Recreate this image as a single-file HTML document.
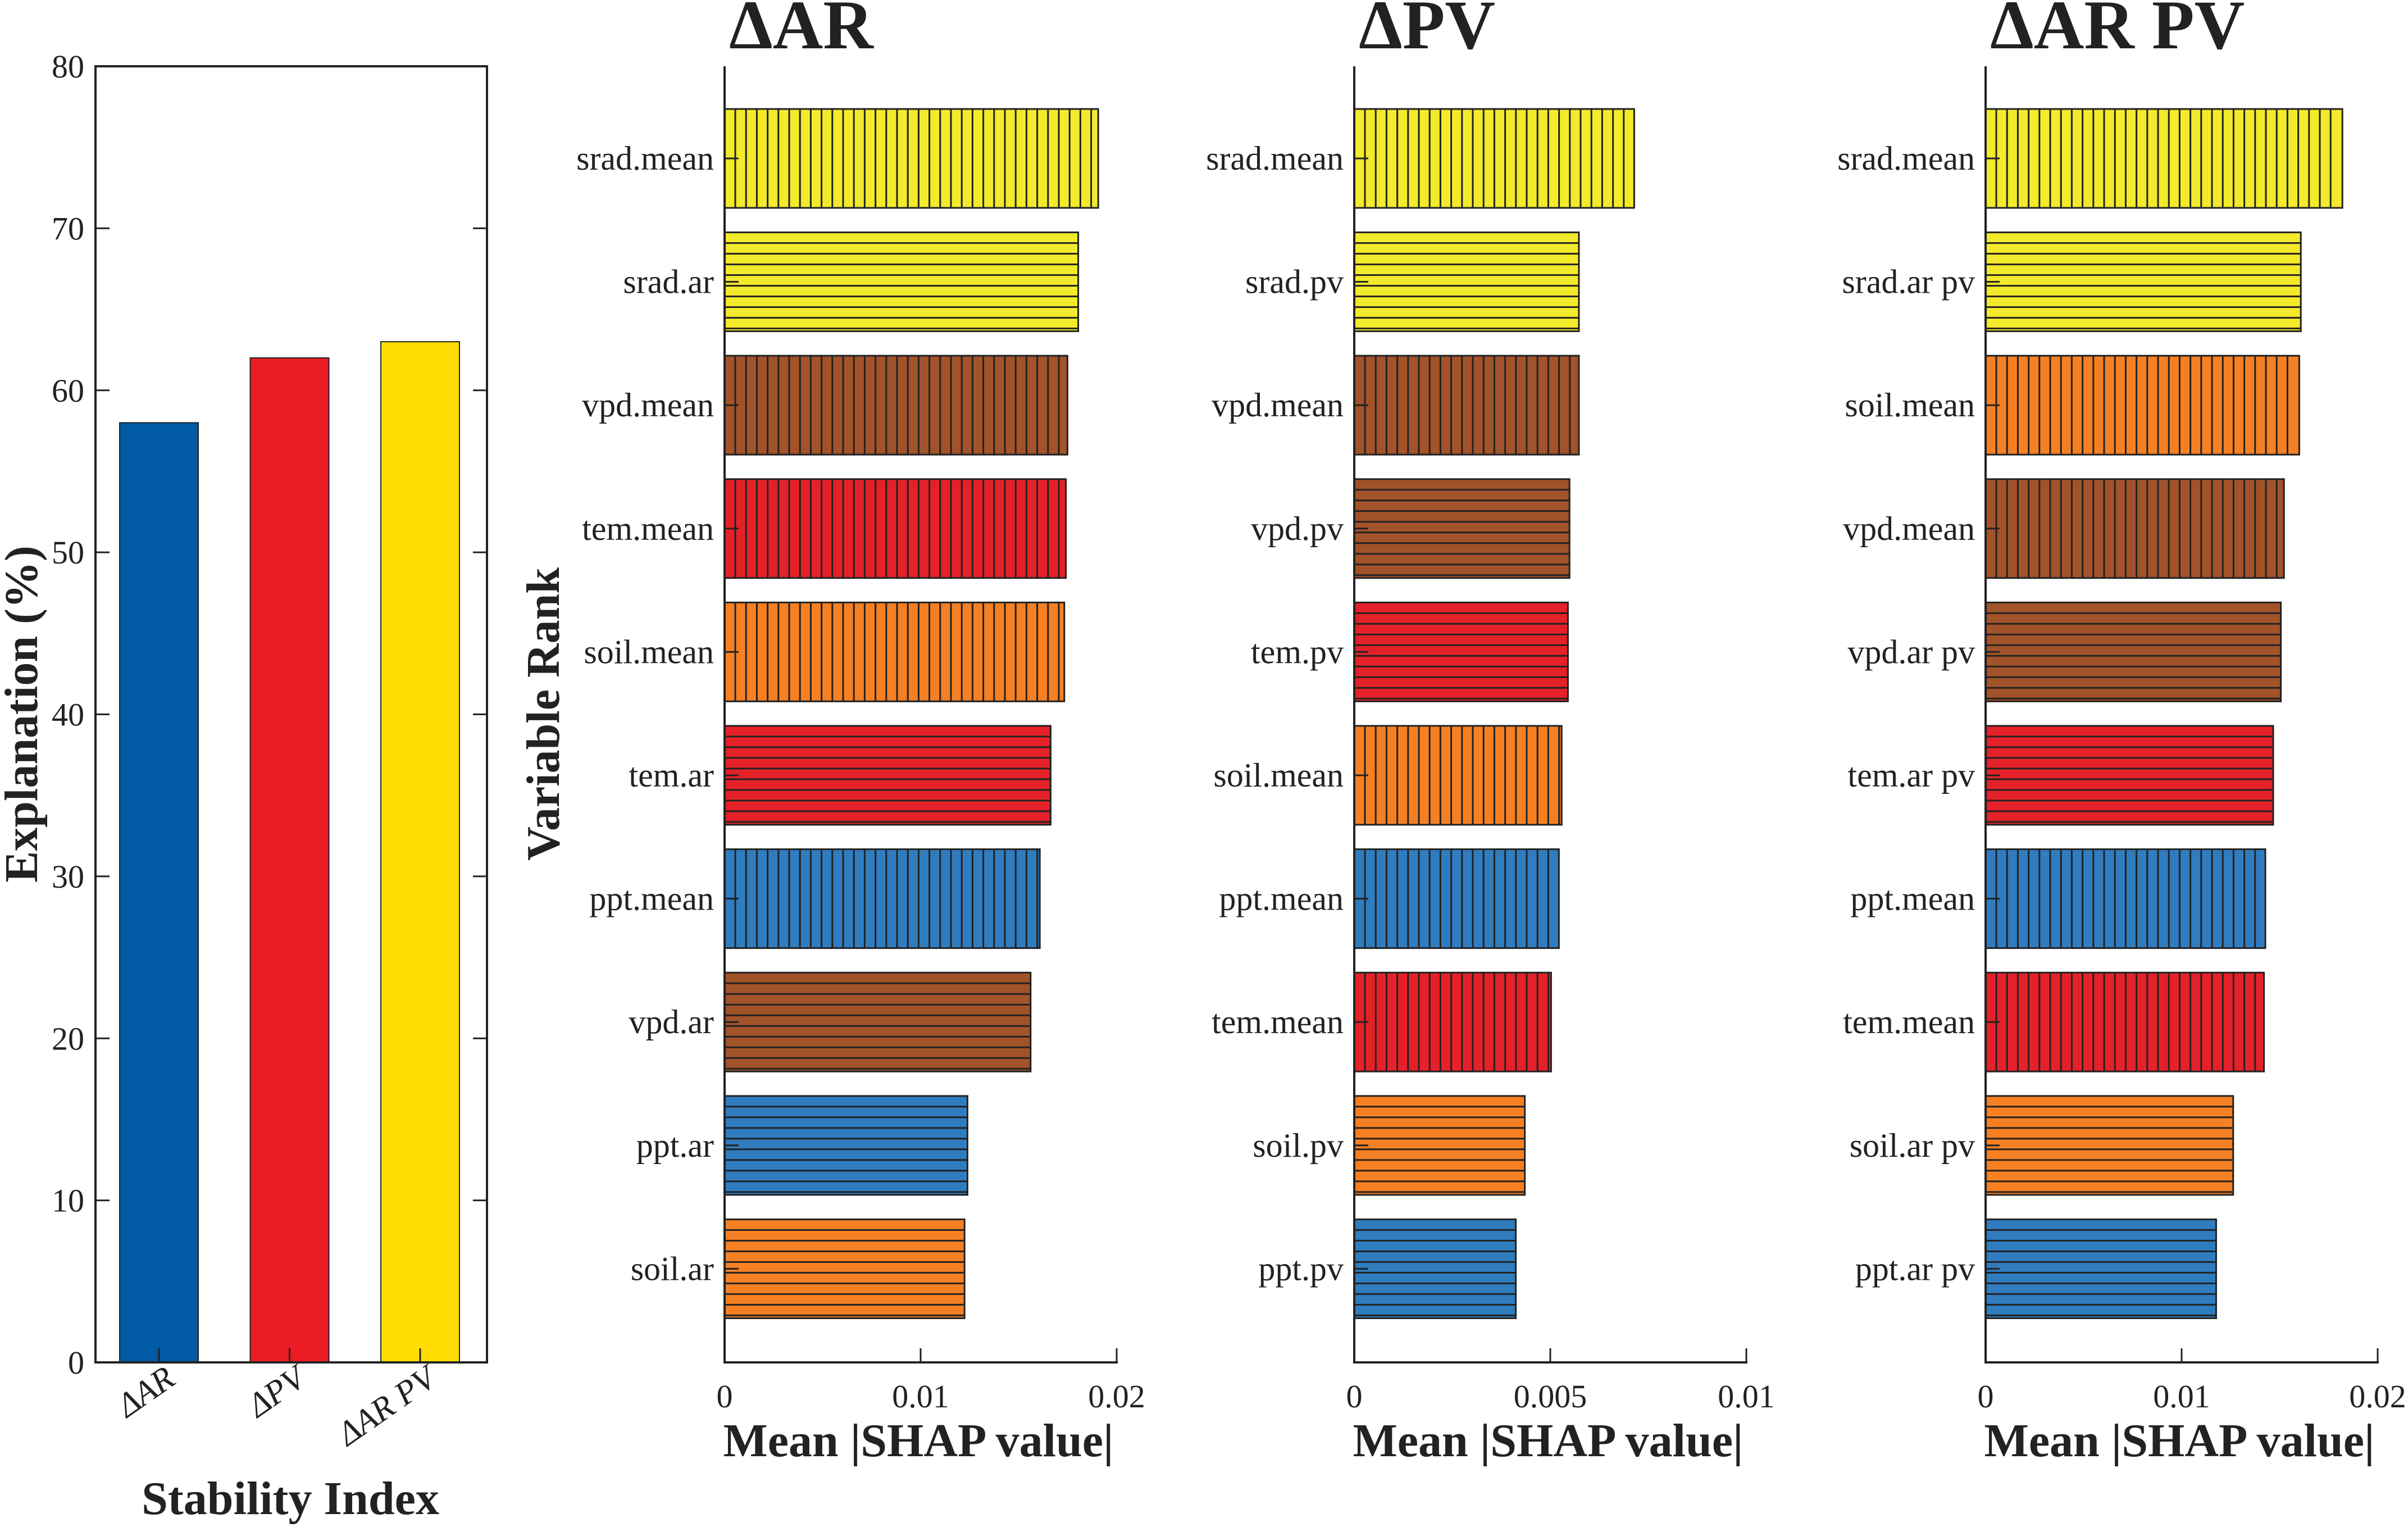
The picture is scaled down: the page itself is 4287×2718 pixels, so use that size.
<!DOCTYPE html>
<html><head><meta charset="utf-8"><style>html,body{margin:0;padding:0;background:#fff}svg{display:block}text{font-family:"Liberation Serif","DejaVu Serif",serif;fill:#222}</style></head>
<body>
<svg id="chart" width="4287" height="2718" viewBox="0 0 4287 2718" xmlns="http://www.w3.org/2000/svg" font-family="Liberation Serif, serif"></svg>
<script>
const stabCats = ["\u0394AR", "\u0394PV", "\u0394AR PV"];
const stabVals = [58, 62, 63];
const stabColors = ["#005ba4", "#ec1c24", "#ffdd00"];
const stabTicks = [0, 10, 20, 30, 40, 50, 60, 70, 80];

const arNames = ["srad.mean","srad.ar","vpd.mean","tem.mean","soil.mean","tem.ar","ppt.mean","vpd.ar","ppt.ar","soil.ar"];
const arVals = [0.01906,0.01804,0.01749,0.01741,0.01733,0.01663,0.01608,0.01561,0.01239,0.01224];
const pvNames = ["srad.mean","srad.pv","vpd.mean","vpd.pv","tem.pv","soil.mean","ppt.mean","tem.mean","soil.pv","ppt.pv"];
const pvVals = [0.00714,0.00573,0.00573,0.00549,0.00545,0.00529,0.00522,0.00502,0.00435,0.00412];
const arpvNames = ["srad.mean","srad.ar pv","soil.mean","vpd.mean","vpd.ar pv","tem.ar pv","ppt.mean","tem.mean","soil.ar pv","ppt.ar pv"];
const arpvVals = [0.0182,0.01608,0.016,0.01522,0.01506,0.01467,0.01427,0.0142,0.01263,0.01176];
const ticks02 = [0, 0.01, 0.02];
const ticks01 = [0, 0.005, 0.01];

const NS = "http://www.w3.org/2000/svg";
const svg = document.getElementById("chart");
const FF = '"Liberation Serif", serif';
function mk(tag, attrs, parent) {
  const e = document.createElementNS(NS, tag);
  for (const k in attrs) e.setAttribute(k, attrs[k]);
  if (tag === "text") e.style.fontFamily = FF;
  (parent || svg).appendChild(e);
  return e;
}
const varColor = {srad:"#f3ea2b", vpd:"#a2532a", tem:"#e42128", soil:"#f58023", ppt:"#2f7cbf"};

// ---- left chart
const L = {x0:170, x1:867, y0:118, y1:2425, max:80};
const ly = v => L.y1 - (v / L.max) * (L.y1 - L.y0);
stabVals.forEach((v, i) => {
  const cx = 283 + i * 232.5;
  const r = mk("rect", {x: cx - 70, y: ly(v), width: 140, height: L.y1 - ly(v), fill: stabColors[i], stroke: "#222", "stroke-width": 2});
  
  
  mk("line", {x1: cx, x2: cx, y1: L.y1, y2: L.y1 - 25, stroke: "#222", "stroke-width": 3});
  const lb = mk("text", {x: cx + 32, y: 2462, "text-anchor": "end", "font-size": 60, "font-style": "italic", transform: `rotate(-35 ${cx + 32} 2462)`});
  lb.textContent = stabCats[i];
  
  
});
const box = mk("rect", {x: L.x0, y: L.y0, width: L.x1 - L.x0, height: L.y1 - L.y0, fill: "none", stroke: "#222", "stroke-width": 4});


stabTicks.forEach(v => {
  const y = ly(v);
  mk("line", {x1: L.x0, x2: L.x0 + 25, y1: y, y2: y, stroke: "#222", "stroke-width": 3});
  mk("line", {x1: L.x1, x2: L.x1 - 25, y1: y, y2: y, stroke: "#222", "stroke-width": 3});
  const t = mk("text", {x: 150, y: y + 20, "text-anchor": "end", "font-size": 58});
  t.textContent = v;
  
  
});
let t1 = mk("text", {x: 517, y: 2695, "text-anchor": "middle", "font-size": 84, "font-weight": "bold"});
t1.textContent = "Stability Index";


let t2 = mk("text", {x: 66, y: 1271, "text-anchor": "middle", "font-size": 84, "font-weight": "bold", transform: "rotate(-90 66 1271)"});
t2.textContent = "Explanation (%)";


let t3 = mk("text", {x: 995, y: 1271, "text-anchor": "middle", "font-size": 84, "font-weight": "bold", transform: "rotate(-90 995 1271)"});
t3.textContent = "Variable Rank";



// ---- SHAP panels
function panel(x0, names, vals, max, ticks, title, key) {
  const W = 698, y0 = 118, y1 = 2425;
  const sx = v => x0 + v / max * W;
  const cy = i => 282 + i * 219.6;
  const g = mk("g", {});
  
  
  names.forEach((n, i) => {
    const c = cy(i), h = 176, top = c - h / 2, xe = sx(vals[i]);
    const col = varColor[n.split(".")[0]];
    const r = mk("rect", {x: x0, y: top, width: xe - x0, height: h, fill: col}, g);
    
    
    if (n.indexOf("mean") >= 0) {
      for (let x = x0 + 19; x < xe - 4; x += 19.2) mk("line", {x1: x, x2: x, y1: top, y2: top + h, stroke: "#222", "stroke-width": 3}, g);
    } else {
      for (let y = top + 19; y < top + h - 4; y += 19) mk("line", {x1: x0, x2: xe, y1: y, y2: y, stroke: "#222", "stroke-width": 3}, g);
    }
    mk("rect", {x: x0, y: top, width: xe - x0, height: h, fill: "none", stroke: "#222", "stroke-width": 3}, g);
    mk("line", {x1: x0, x2: x0 + 25, y1: c, y2: c, stroke: "#222", "stroke-width": 3}, g);
    const lb = mk("text", {x: x0 - 19, y: c + 20, "text-anchor": "end", "font-size": 60}, g);
    lb.textContent = n;
    
    
  });
  mk("line", {x1: x0, x2: x0, y1: y0, y2: y1 + 2, stroke: "#222", "stroke-width": 4}, g);
  mk("line", {x1: x0 - 2, x2: x0 + W + 2, y1: y1, y2: y1, stroke: "#222", "stroke-width": 4}, g);
  ticks.forEach(v => {
    const x = sx(v);
    mk("line", {x1: x, x2: x, y1: y1, y2: y1 - 25, stroke: "#222", "stroke-width": 3}, g);
    const t = mk("text", {x: x, y: 2505, "text-anchor": "middle", "font-size": 58}, g);
    t.textContent = v;
    
    
  });
  const xt = mk("text", {x: x0 + 345, y: 2592, "text-anchor": "middle", "font-size": 84, "font-weight": "bold"}, g);
  xt.textContent = "Mean |SHAP value|";
  
  
  const tt = mk("text", {x: x0 + 8, y: 86, "font-size": 124, "font-weight": "bold"}, g);
  tt.textContent = title;
  
  
}
panel(1290, arNames, arVals, 0.02, ticks02, "\u0394AR", "ar");
panel(2411, pvNames, pvVals, 0.01, ticks01, "\u0394PV", "pv");
panel(3535, arpvNames, arpvVals, 0.02, ticks02, "\u0394AR PV", "arpv");
</script>
</body></html>
